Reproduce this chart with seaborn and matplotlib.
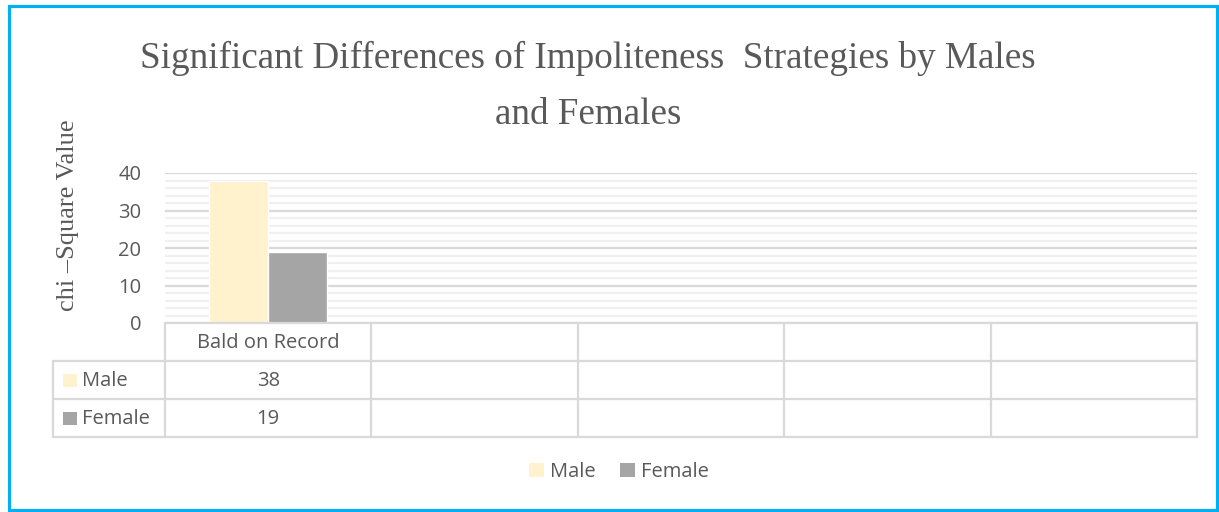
import matplotlib
matplotlib.use("Agg")
import matplotlib.pyplot as plt
import matplotlib.transforms as mtransforms
from matplotlib.patches import Rectangle, Patch
from matplotlib.ticker import MultipleLocator
import seaborn as sns
import pandas as pd

# ---------------- data ----------------
categories = ["Bald on Record"]
n_slots = 5                      # the chart reserves five category columns
series = ["Male", "Female"]
male_values = [38]
female_values = [19]
colors = {"Male": "#fff2cc", "Female": "#a5a5a5"}
yticks = [0, 10, 20, 30, 40]
title_lines = ["Significant Differences of Impoliteness  Strategies by Males", "and Females"]
ylabel = "chi \u2013Square Value"

# ---------------- figure ----------------
W, H, DPI = 1219, 512, 100
sns.set_theme(style="white")
plt.rcParams["font.family"] = ["Open Sans", "DejaVu Sans"]
TXT = "#595959"
GRID = "#d9d9d9"
SERIF = ["Liberation Serif", "DejaVu Serif"]
FS = 14.5

fig = plt.figure(figsize=(W / DPI, H / DPI), dpi=DPI)
fig.patch.set_facecolor("white")


def fx(px):
    return px / W


def fy(py):
    return 1 - py / H


L, R, T, B = 165, 1197, 173, 323
ax = fig.add_axes([fx(L), fy(B), fx(R) - fx(L), fy(T) - fy(B)])

df = pd.DataFrame({
    "category": categories * 2,
    "series": ["Male"] * len(categories) + ["Female"] * len(categories),
    "value": male_values + female_values,
})
sns.barplot(data=df, x="category", y="value", hue="series", hue_order=series,
            palette=colors, width=0.57, saturation=1, ax=ax, legend=False,
            zorder=3)

ax.set_xlim(-0.5, n_slots - 0.5)
ax.set_ylim(yticks[0], yticks[-1])
ax.set_yticks(yticks)
ax.yaxis.set_minor_locator(MultipleLocator(2))
ax.grid(which="major", axis="y", color=GRID, lw=1.6, zorder=1)
ax.grid(which="minor", axis="y", color="#f0f0f0", lw=1.6, zorder=0)
ax.set_axisbelow(True)
ax.set_xticks([])
ax.set_xlabel("")
ax.set_ylabel("")
for s in ax.spines.values():
    s.set_visible(False)
ax.tick_params(axis="y", which="both", length=0, pad=17, labelsize=FS, labelcolor=TXT)
ax.set_facecolor("white")

# ---------------- title & y label ----------------
fig.text(fx(588), fy(58), title_lines[0], ha="center", va="center",
         family=SERIF, fontsize=26.7, color=TXT)
fig.text(fx(588), fy(115), title_lines[1], ha="center", va="center",
         family=SERIF, fontsize=26.7, color=TXT)
fig.text(fx(68), fy(215), ylabel, rotation=90, ha="center", va="center",
         family=SERIF, fontsize=19, color=TXT)

# ---------------- data table ----------------
bt = mtransforms.blended_transform_factory(ax.transData, fig.transFigure)
rows_y = [323, 361, 399, 437]
LBL_L = 53
lw = 1.6
# horizontal lines over the data columns
for y in rows_y:
    ax.plot([-0.5, n_slots - 0.5], [fy(y), fy(y)], transform=bt, color=GRID,
            lw=lw, clip_on=False, zorder=5)
# horizontal lines over the label column (series rows only)
for y in rows_y[1:]:
    fig.add_artist(plt.Line2D([fx(LBL_L), fx(L)], [fy(y), fy(y)], color=GRID, lw=lw))
# vertical lines
for i in range(n_slots + 1):
    ax.plot([i - 0.5, i - 0.5], [fy(rows_y[0]), fy(rows_y[-1])], transform=bt,
            color=GRID, lw=lw, clip_on=False, zorder=5)
fig.add_artist(plt.Line2D([fx(LBL_L), fx(LBL_L)], [fy(rows_y[1]), fy(rows_y[-1])],
                          color=GRID, lw=lw))

# header row: category names
for i, c in enumerate(categories):
    ax.text(i, fy((rows_y[0] + rows_y[1]) / 2 + 1), c, transform=bt, ha="center",
            va="center", fontsize=FS, color=TXT)

# series rows
series_values = {"Male": male_values, "Female": female_values}
for r, s in enumerate(series):
    yc = (rows_y[r + 1] + rows_y[r + 2]) / 2
    fig.add_artist(Rectangle((fx(63), fy(yc + 6.5)), fx(14), 13 / H,
                             facecolor=colors[s], edgecolor="none"))
    fig.text(fx(82), fy(yc + 1), s, ha="left", va="center", fontsize=FS, color=TXT)
    for i, v in enumerate(series_values[s]):
        ax.text(i, fy(yc + 1), f"{v:g}", transform=bt, ha="center", va="center",
                fontsize=FS, color=TXT)

# ---------------- bottom legend ----------------
handles = [Patch(facecolor=colors[s], edgecolor="none", label=s) for s in series]
leg = fig.legend(handles=handles, loc="center", bbox_to_anchor=(fx(619), fy(472)),
                 ncol=2, frameon=False, fontsize=FS, handlelength=0.75,
                 handleheight=0.75, handletextpad=0.3, columnspacing=1.2)
for t in leg.get_texts():
    t.set_color(TXT)

# ---------------- blue chart border ----------------
fig.add_artist(Rectangle((fx(8.5), fy(509.5)), fx(1217) - fx(8.5), (509.5 - 5.5) / H,
                         facecolor="none", edgecolor="#00b0f0", lw=2.3))

fig.savefig("out.png", dpi=DPI)
